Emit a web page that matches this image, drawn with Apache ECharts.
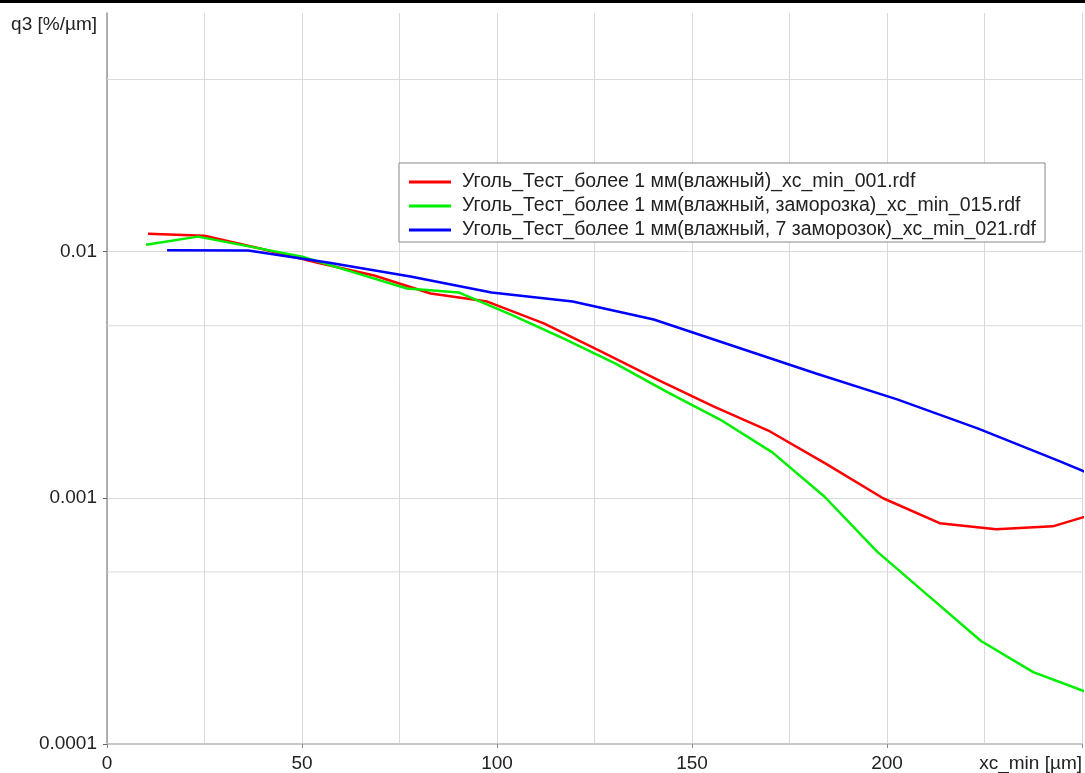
<!DOCTYPE html>
<html>
<head>
<meta charset="utf-8">
<script src="https://cdn.jsdelivr.net/npm/echarts@6/dist/echarts.min.js"></script>
<style>
  html, body { margin: 0; padding: 0; background: #fff; }
  #chart { width: 1085px; height: 773px; }
</style>
</head>
<body>
<div id="chart"></div>
<script>
// данные серий (xc_min, q3)
const seriesNames = [
  'Уголь_Тест_более 1 мм(влажный)_xc_min_001.rdf',
  'Уголь_Тест_более 1 мм(влажный, заморозка)_xc_min_015.rdf',
  'Уголь_Тест_более 1 мм(влажный, 7 заморозок)_xc_min_021.rdf'
];
const seriesColors = ['#ff0000', '#00ee00', '#0000ff'];

const xRed = [10.5, 25, 39.5, 54, 68.5, 83, 97.5, 112, 126.5, 141, 155.5, 170, 184.5, 199, 213.5, 228, 242.5, 257];
const yRed = [0.01183, 0.01161, 0.01028, 0.00902, 0.00800, 0.00676, 0.00627, 0.00511, 0.00394, 0.00303, 0.00235, 0.00186, 0.00137, 0.000996, 0.000789, 0.000745, 0.000766, 0.000897];

const xGreen = [10, 23.3, 36.7, 50.1, 63.5, 76.9, 90.3, 103.6, 117, 130.4, 143.8, 157.2, 170.6, 184, 197.4, 210.8, 224.1, 237.5, 250.9];
const yGreen = [0.01067, 0.01151, 0.01048, 0.00954, 0.00822, 0.00708, 0.00682, 0.00555, 0.00444, 0.00351, 0.00268, 0.00208, 0.00153, 0.00101, 0.000606, 0.000398, 0.000262, 0.000196, 0.000163];

const xBlue = [15.4, 36.2, 57, 77.8, 98.6, 119.4, 140.2, 161, 181.8, 202.6, 223.4, 244.2, 265];
const yBlue = [0.01012, 0.0101, 0.00902, 0.00792, 0.00682, 0.00627, 0.00530, 0.00412, 0.00320, 0.00251, 0.00191, 0.00141, 0.00103];

const yTickLabels = { '0.0001': '0.0001', '0.001': '0.001', '0.01': '0.01' };
const minorGridValues = [0.0005, 0.005, 0.05];
const xRange = [0, 250];
const xAxisTitle = 'xc_min [µm]';

const gridColor = '#d9d9d9';
const fontFamily = '"Liberation Sans", Arial, sans-serif';

function pairs(xs, ys) {
  return xs.map((x, i) => [x, ys[i]]);
}

function makeLine(name, data, color) {
  return {
    type: 'line',
    name,
    data,
    symbol: 'none',
    lineStyle: { color, width: 2.5 },
    itemStyle: { color },
    z: 3
  };
}

// промежуточные линии сетки (5·10^n) — markLine на лог-оси теряет их
function minorGridSeries(v) {
  return {
    type: 'line',
    name: 'grid-' + v,
    data: xRange.map(x => [x, v]),
    symbol: 'none',
    silent: true,
    lineStyle: { color: gridColor, width: 1 },
    z: 1
  };
}

const chart = echarts.init(document.getElementById('chart'));

chart.setOption({
  animation: false,
  textStyle: { fontFamily },
  grid: { left: 107, right: 1, top: 13, bottom: 28 },
  xAxis: {
    type: 'value',
    min: xRange[0],
    max: xRange[1],
    interval: 50,
    axisLine: { lineStyle: { color: '#c8c8c8', width: 2 } },
    axisTick: { show: true, length: 4, lineStyle: { color: '#888' } },
    axisLabel: {
      margin: 10, fontSize: 19, color: '#222',
      showMaxLabel: true,
      alignMaxLabel: 'right',
      formatter: v => (v === 250 ? xAxisTitle : String(v))
    },
    splitLine: { show: true, lineStyle: { color: gridColor } },
    minorTick: { show: false, splitNumber: 2 },
    minorSplitLine: { show: true, lineStyle: { color: gridColor } }
  },
  yAxis: {
    type: 'log',
    logBase: 10,
    min: 0.0001,
    max: 0.0932,
    name: 'q3 [%/µm]',
    nameLocation: 'end',
    nameGap: -12,
    nameTextStyle: {
      fontSize: 19, color: '#222', align: 'right', verticalAlign: 'middle',
      padding: [0, 10, 0, 0]
    },
    axisLine: { show: true, lineStyle: { color: '#999', width: 1.5 } },
    axisTick: { show: true, length: 4, lineStyle: { color: '#666' } },
    axisLabel: {
      margin: 10, fontSize: 19, color: '#222',
      showMaxLabel: false,
      formatter: v => {
        const key = String(+v.toPrecision(3));
        return yTickLabels[key] || '';
      }
    },
    splitLine: { show: true, showMaxLine: false, lineStyle: { color: gridColor } }
  },
  legend: {
    data: seriesNames,
    orient: 'vertical',
    left: 399,
    top: 163,
    icon: 'rect',
    itemWidth: 42,
    itemHeight: 3,
    itemGap: 0,
    padding: [7, 9, 0, 10],
    borderColor: '#888',
    borderWidth: 1,
    backgroundColor: '#fff',
    textStyle: { fontSize: 19.5, color: '#222', lineHeight: 24, padding: [0, 0, 0, 6] }
  },
  graphic: [{
    type: 'rect',
    shape: { x: 0, y: 0, width: 1085, height: 3 },
    style: { fill: '#000' },
    silent: true
  }],
  series: minorGridValues.map(minorGridSeries).concat([
    makeLine(seriesNames[0], pairs(xRed, yRed), seriesColors[0]),
    makeLine(seriesNames[1], pairs(xGreen, yGreen), seriesColors[1]),
    makeLine(seriesNames[2], pairs(xBlue, yBlue), seriesColors[2])
  ])
});

window.addEventListener('resize', () => chart.resize());
</script>
</body>
</html>
